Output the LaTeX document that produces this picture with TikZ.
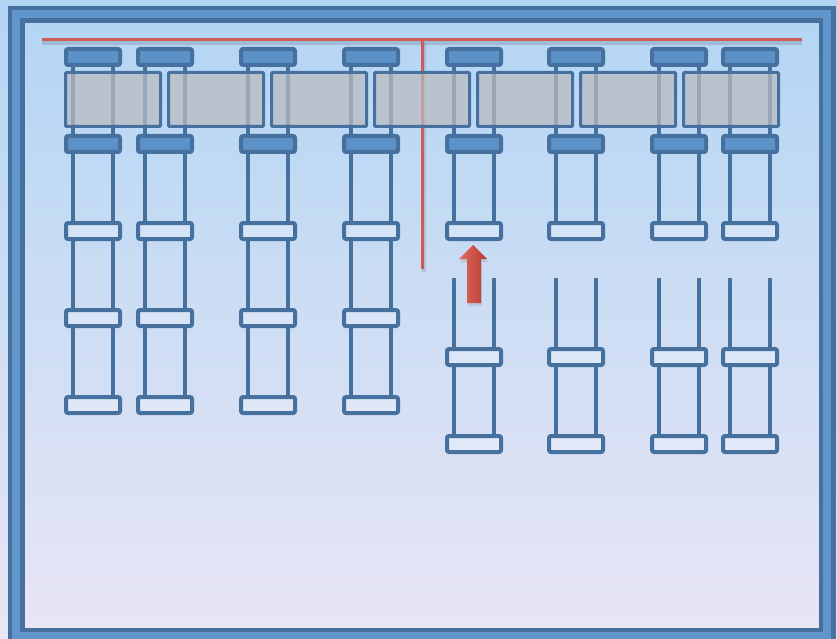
\documentclass[tikz,border=0pt]{standalone}
\usetikzlibrary{backgrounds}

\definecolor{railblue}{RGB}{70,112,158}
\definecolor{capblue}{RGB}{92,146,200}
\definecolor{framemid}{RGB}{97,150,204}
\definecolor{skytop}{RGB}{178,213,244}
\definecolor{skybottom}{RGB}{233,230,245}
\definecolor{liftred}{RGB}{206,92,84}
\definecolor{boxgray}{RGB}{186,187,191}

\begin{document}
\begin{tikzpicture}[x=1pt, y=-1pt,
    rail/.style={draw=railblue, line width=4pt},
    capbox/.style={draw=railblue, fill=capblue, line width=4pt, rounded corners=2pt,
        minimum width=54pt, minimum height=16pt, inner sep=0pt},
    ringbox/.style={capbox, fill=white, fill opacity=0.25},
    slab/.style={draw=railblue, fill=boxgray, fill opacity=0.72, line width=3pt,
        rounded corners=1pt, minimum width=95pt, minimum height=54pt, inner sep=0pt},
    redline/.style={draw=liftred, line width=3pt},
    redshadow/.style={draw=black, draw opacity=0.12, line width=4pt}
]
    \useasboundingbox (0,0) rectangle (837,639);
    % sky and frame
    \begin{scope}[on background layer]
        \shade[top color=skytop, bottom color=skybottom] (0,0) rectangle (837,639);
        \draw[railblue, line width=17pt] (16.5,14.5) rectangle (827.5,636);
        \draw[framemid, line width=8pt] (16,14) rectangle (827,636);
    \end{scope}

    % full columns
    \foreach \i/\x in {1/93, 2/165, 3/268, 4/371} {
        \node[capbox] (top-\i) at (\x,57) {};
        \node[capbox] (mid-\i) at (\x,144) {};
        \node[ringbox] (ringa-\i) at (\x,231) {};
        \node[ringbox] (ringb-\i) at (\x,318) {};
        \node[ringbox] (ringc-\i) at (\x,405) {};
        \begin{scope}[on background layer]
            \foreach \a/\b in {top/mid, mid/ringa, ringa/ringb, ringb/ringc} {
                \draw[rail] ([xshift=-20pt]\a-\i.south) -- ([xshift=-20pt]\b-\i.north);
                \draw[rail] ([xshift=20pt]\a-\i.south) -- ([xshift=20pt]\b-\i.north);
            }
        \end{scope}
    }

    % split columns
    \foreach \i/\x in {5/474, 6/576, 7/679, 8/750} {
        \node[capbox] (top-\i) at (\x,57) {};
        \node[capbox] (mid-\i) at (\x,144) {};
        \node[ringbox] (ringa-\i) at (\x,231) {};
        \coordinate (low-\i) at (\x,278);
        \node[ringbox] (ringb-\i) at (\x,357) {};
        \node[ringbox] (ringc-\i) at (\x,444) {};
        \begin{scope}[on background layer]
            \foreach \a/\b in {top/mid, mid/ringa, ringb/ringc} {
                \draw[rail] ([xshift=-20pt]\a-\i.south) -- ([xshift=-20pt]\b-\i.north);
                \draw[rail] ([xshift=20pt]\a-\i.south) -- ([xshift=20pt]\b-\i.north);
            }
            \draw[rail] ([xshift=-20pt]low-\i) -- ([xshift=-20pt]ringb-\i.north);
            \draw[rail] ([xshift=20pt]low-\i) -- ([xshift=20pt]ringb-\i.north);
        \end{scope}
    }

    % beam and plumb line
    \coordinate (beam-l) at (42,40);
    \coordinate (beam-r) at (802,40);
    \coordinate (plumb-top) at (422,40);
    \coordinate (plumb-end) at (422,269);
    \draw[redshadow] ([yshift=-3pt]beam-l) -- ([yshift=-3pt]beam-r);
    \draw[redshadow] ([xshift=2pt,yshift=-3pt]plumb-top) -- ([xshift=2pt,yshift=-3pt]plumb-end);
    \draw[redline] (beam-l) -- (beam-r);
    \draw[redline] (plumb-top) -- (plumb-end);

    % slabs
    \foreach \k in {0,...,6}
        \node[slab] (slab-\k) at ({113+103*\k},99.5) {};

    % lift arrow
    \fill[black, opacity=0.1] (474,248) -- (488,262) -- (482,262) -- (482,306)
        -- (468,306) -- (468,262) -- (460,262) -- cycle;
    \shade[left color={rgb,255:red,224;green,106;blue,94}, right color={rgb,255:red,184;green,58;blue,48}]
        (473,245) -- (487,259) -- (481,259) -- (481,303) -- (467,303) -- (467,259) -- (459,259) -- cycle;
\end{tikzpicture}
\end{document}
